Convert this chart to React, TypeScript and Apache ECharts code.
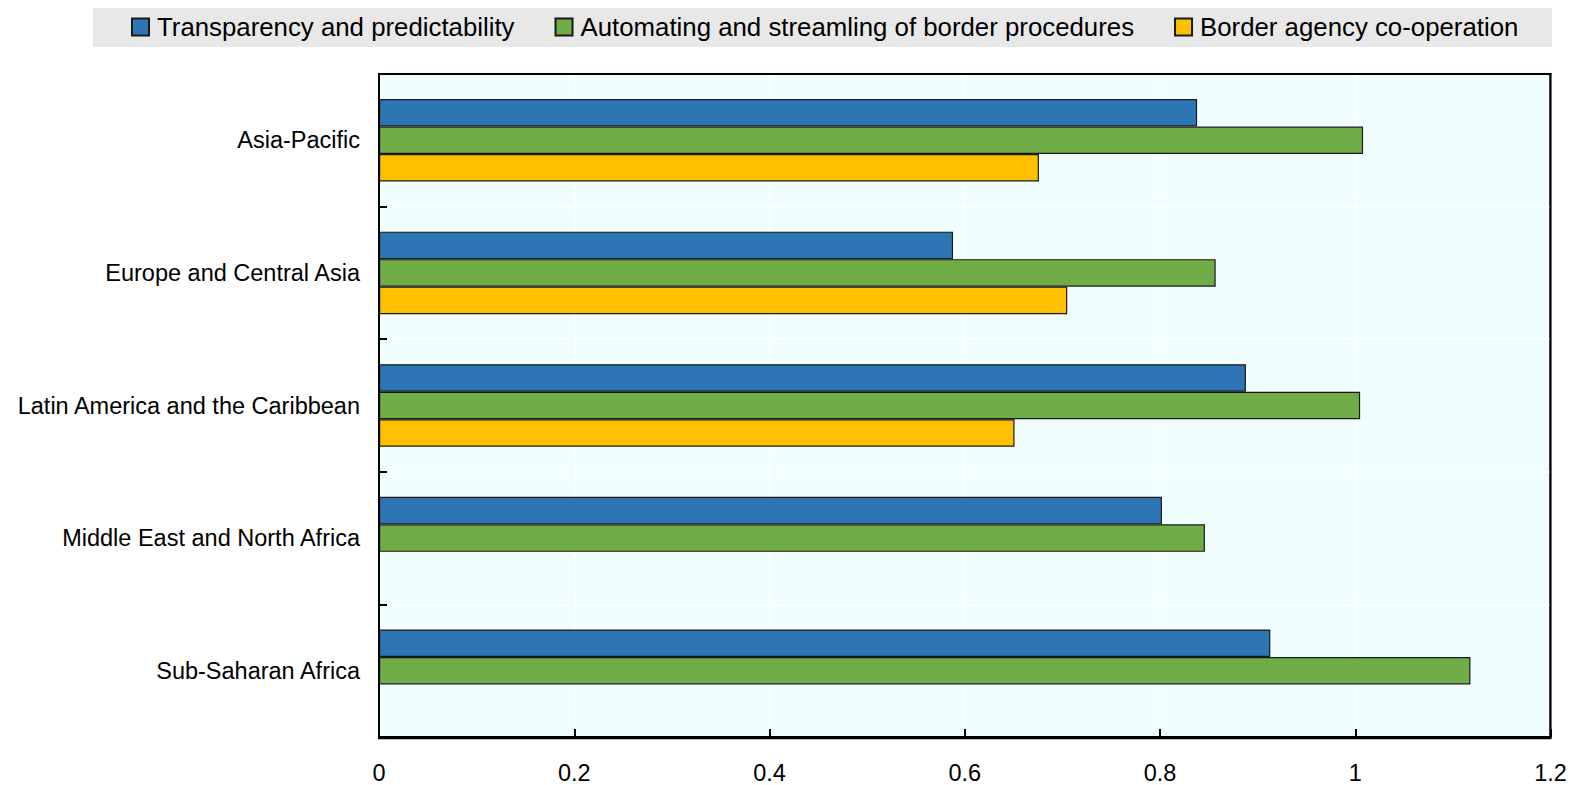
import React, { useEffect, useRef } from "react";
import * as echarts from "echarts";

const categories = [
  "Asia-Pacific",
  "Europe and Central Asia",
  "Latin America and the Caribbean",
  "Middle East and North Africa",
  "Sub-Saharan Africa",
];
const seriesNames = [
  "Transparency and predictability",
  "Automating and streamling of border procedures",
  "Border agency co-operation",
];
const transparency = [0.838, 0.588, 0.888, 0.802, 0.913];
const automating = [1.008, 0.857, 1.005, 0.846, 1.118];
const cooperation = [0.676, 0.705, 0.651, null, null];
const colors = ["#2E75B6", "#70AD47", "#FFC000"];

const FONT = "'Liberation Sans', Arial, sans-serif";

const GRID = { left: 379, right: 22.5, top: 74, bottom: 46.7 };
const W = 1573;
const H = 785;

export default function App() {
  const ref = useRef<HTMLDivElement>(null);
  useEffect(() => {
    if (!ref.current) return;
    const chart = echarts.init(ref.current, null, { renderer: "svg" });
    const data = [transparency, automating, cooperation];
    chart.setOption({
      animation: false,
      textStyle: { fontFamily: FONT },
      graphic: [
        {
          type: "rect",
          z: 0,
          shape: { x: 93, y: 8, width: 1459, height: 39 },
          style: { fill: "#E8E8E8" },
        },
        {
          type: "rect",
          z: 100,
          silent: true,
          shape: {
            x: GRID.left,
            y: GRID.top,
            width: W - GRID.left - GRID.right,
            height: H - GRID.top - GRID.bottom,
          },
          style: { fill: "none", stroke: "#000", lineWidth: 2 },
        },
      ],
      legend: {
        left: 131,
        top: 14,
        itemWidth: 17,
        itemHeight: 17,
        itemGap: 40,
        padding: 0,
        icon: "rect",
        textStyle: { fontSize: 25.8, color: "#000", fontFamily: FONT, padding: [0, 0, 0, 3] },
        data: seriesNames,
      },
      grid: {
        left: GRID.left,
        right: GRID.right,
        top: GRID.top,
        bottom: GRID.bottom,
        show: true,
        backgroundColor: "#F0FEFE",
        borderColor: "#000",
        borderWidth: 2,
      },
      xAxis: {
        type: "value",
        min: 0,
        max: 1.2,
        interval: 0.2,
        axisLine: { show: true, lineStyle: { color: "#000", width: 2 } },
        axisTick: { show: true, inside: true, length: 8, lineStyle: { color: "#000", width: 2 } },
        splitLine: { show: true, lineStyle: { color: "#FFFFFF", width: 1.5 } },
        axisLabel: { fontSize: 23.5, color: "#000", margin: 24, fontFamily: FONT },
      },
      yAxis: {
        type: "category",
        inverse: true,
        data: categories,
        axisLine: { show: true, lineStyle: { color: "#000", width: 2 } },
        axisTick: { show: true, inside: true, length: 8, lineStyle: { color: "#000", width: 2 } },
        splitLine: { show: true, lineStyle: { color: "#FFFFFF", width: 1.5 } },
        axisLabel: { fontSize: 23.5, color: "#000", margin: 19, fontFamily: FONT },
      },
      series: seriesNames.map((name, i) => ({
        name,
        type: "bar",
        data: data[i],
        barGap: "0%",
        barCategoryGap: "37.8%",
        itemStyle: { color: colors[i], borderColor: "#1A1A1A", borderWidth: 1.2 },
      })),
    });
    return () => chart.dispose();
  }, []);
  return (
    <div
      ref={ref}
      style={{ position: "absolute", left: 0, top: 0, width: W, height: H }}
    />
  );
}
